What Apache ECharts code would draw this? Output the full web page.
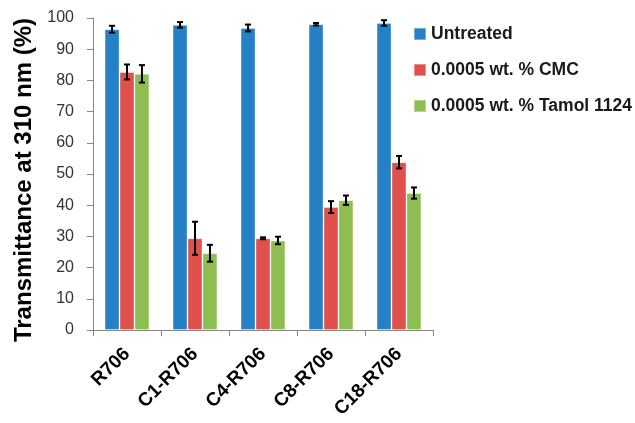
<!DOCTYPE html>
<html><head><meta charset="utf-8">
<script src="https://cdn.jsdelivr.net/npm/echarts@6/dist/echarts.min.js"></script>
<style>html,body{margin:0;padding:0;background:#fff}#c{width:635px;height:423px}</style>
</head><body><div id="c"></div>
<script>
const categories = ['R706', 'C1-R706', 'C4-R706', 'C8-R706', 'C18-R706'];
const seriesNames = ['Untreated', '0.0005 wt. % CMC', '0.0005 wt. % Tamol 1124'];
const untreated = [96.4, 97.8, 96.8, 98.0, 98.4];
const untreatedErr = [1.1, 0.9, 1.1, 0.4, 0.9];
const cmc = [82.7, 29.4, 29.4, 39.4, 53.8];
const cmcErr = [2.4, 5.3, 0.3, 1.9, 2.0];
const tamol = [82.1, 24.6, 28.7, 41.6, 43.9];
const tamolErr = [2.8, 2.7, 1.2, 1.5, 1.8];
const yTicks = [0, 10, 20, 30, 40, 50, 60, 70, 80, 90, 100];

const colors = ['#2580C6', '#E0504D', '#8EBD51'];
const values = [untreated, cmc, tamol];
const errs = [untreatedErr, cmcErr, tamolErr];
const BAR_FRAC = 0.22;

const chart = echarts.init(document.getElementById('c'), null, {renderer: 'canvas'});
const series = [];
values.forEach((v, i) => {
  series.push({
    name: seriesNames[i], type: 'bar', data: v,
    barWidth: (BAR_FRAC * 100) + '%', barGap: '0%',
    itemStyle: {color: colors[i], borderColor: 'rgba(255,255,255,0.35)', borderWidth: 1},
    z: 2
  });
});
values.forEach((v, i) => {
  series.push({
    type: 'custom', z: 5, silent: true,
    data: v.map((val, k) => [k, val - errs[i][k], val + errs[i][k]]),
    renderItem: function (params, api) {
      const band = api.size([1, 0])[0];
      const bw = band * BAR_FRAC;
      const off = (i - 1) * bw;
      const lo = api.coord([api.value(0), api.value(1)]);
      const hi = api.coord([api.value(0), api.value(2)]);
      const x = lo[0] + off;
      const cap = 3;
      const st = {stroke: '#000', lineWidth: 2};
      return {type: 'group', children: [
        {type: 'line', shape: {x1: x, y1: lo[1], x2: x, y2: hi[1]}, style: st},
        {type: 'line', shape: {x1: x - cap, y1: lo[1], x2: x + cap, y2: lo[1]}, style: st},
        {type: 'line', shape: {x1: x - cap, y1: hi[1], x2: x + cap, y2: hi[1]}, style: st}
      ]};
    }
  });
});

chart.setOption({
  animation: false,
  grid: {left: 93, right: 202, top: 18, bottom: 93, containLabel: false},
  legend: {
    orient: 'vertical', left: 408, top: 20, itemWidth: 12, itemHeight: 12, itemGap: 18,
    data: seriesNames, icon: 'rect',
    textStyle: {fontFamily: 'Liberation Sans', fontWeight: 'bold', fontSize: 17.5, color: '#1a1a1a'}
  },
  xAxis: {
    type: 'category', data: categories,
    axisLine: {lineStyle: {color: '#868686', width: 1}},
    axisTick: {show: true, length: 6, lineStyle: {color: '#868686'}},
    axisLabel: {rotate: 45, fontFamily: 'Liberation Sans', fontWeight: 'bold', fontSize: 19, color: '#000', margin: 21, interval: 0}
  },
  yAxis: {
    type: 'value', min: 0, max: 100, interval: 10,
    name: 'Transmittance at 310 nm (%)', nameLocation: 'middle', nameGap: 56, nameRotate: 90,
    nameTextStyle: {fontFamily: 'Liberation Sans', fontWeight: 'bold', fontSize: 24, color: '#000', padding: [0, 12, 0, 0]},
    axisLine: {show: true, lineStyle: {color: '#868686'}},
    axisTick: {show: true, length: 6, lineStyle: {color: '#868686'}},
    splitLine: {show: false},
    axisLabel: {fontFamily: 'Liberation Sans', fontSize: 16, color: '#333', margin: 19,
      formatter: v => yTicks.includes(v) ? String(v) : ''}
  },
  series: series
});
</script></body></html>
